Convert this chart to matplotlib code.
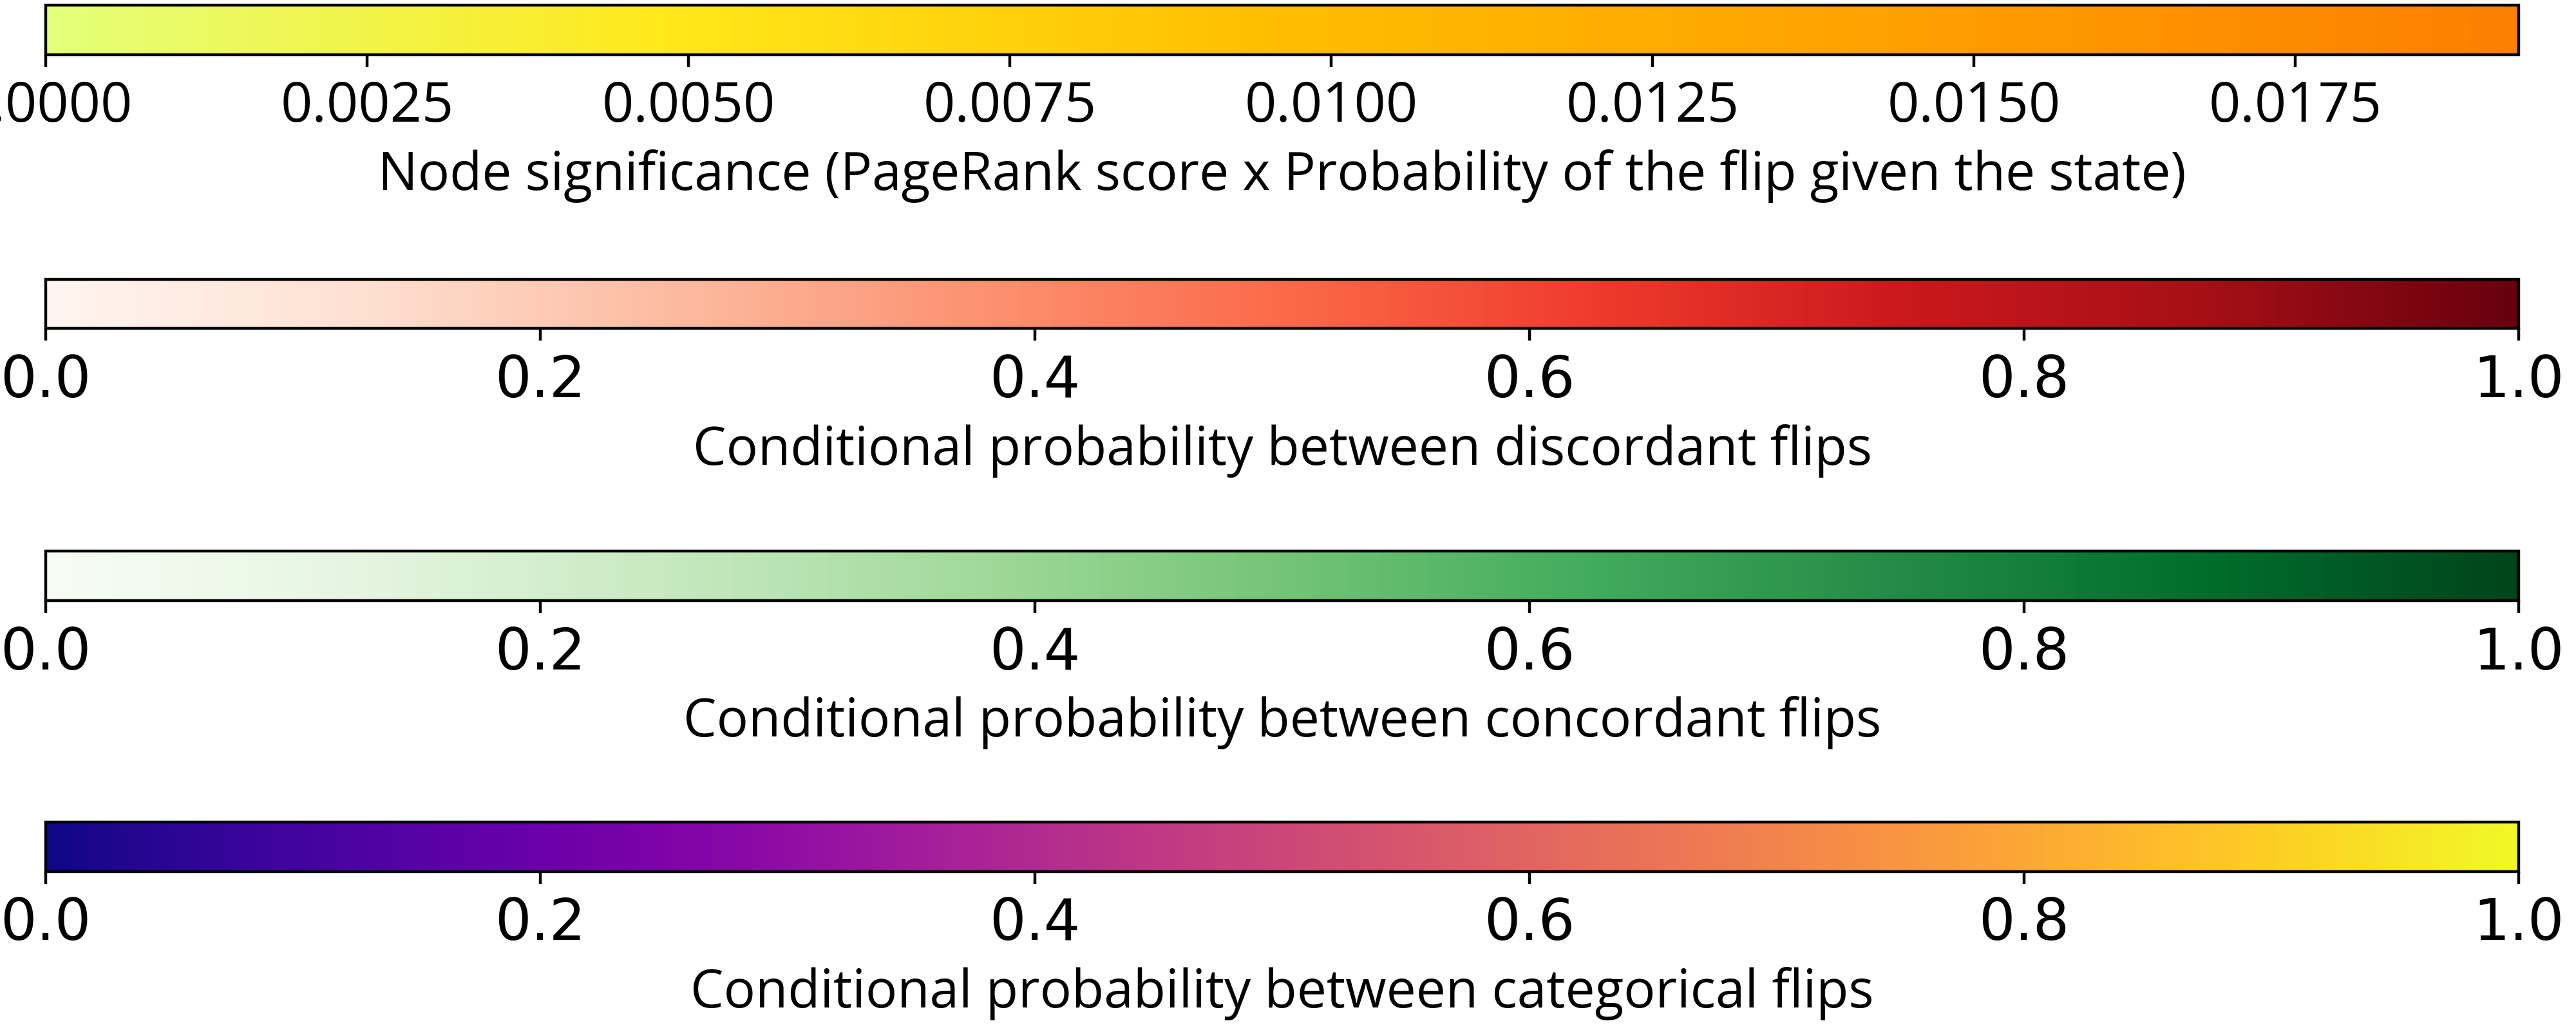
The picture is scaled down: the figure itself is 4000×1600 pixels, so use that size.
import numpy as np
import matplotlib
matplotlib.use('Agg')
import matplotlib.pyplot as plt
import matplotlib as mpl

plt.rcParams.update({
    'font.size': 16,
    'font.family': 'DejaVu Sans',
})

# colorbar ranges, maps and labels (top to bottom)
cmaps = ['Wistia', 'Reds', 'Greens', 'plasma']
vmins = [0.0, 0.0, 0.0, 0.0]
vmaxs = [0.01924, 1.0, 1.0, 1.0]
labels = [
    'Node significance (PageRank score x Probability of the flip given the state)',
    'Conditional probability between discordant flips',
    'Conditional probability between concordant flips',
    'Conditional probability between categorical flips',
]
tick_sets = [
    [0.0, 0.0025, 0.005, 0.0075, 0.01, 0.0125, 0.015, 0.0175],
    [0.0, 0.2, 0.4, 0.6, 0.8, 1.0],
    [0.0, 0.2, 0.4, 0.6, 0.8, 1.0],
    [0.0, 0.2, 0.4, 0.6, 0.8, 1.0],
]
tick_fmts = ['{:.4f}', '{:.1f}', '{:.1f}', '{:.1f}']

label_font = ['Open Sans', 'DejaVu Sans']

fig = plt.figure(figsize=(10, 4), dpi=400)

left, width, height = 0.0178, 0.960, 0.048
tops = [0.995, 0.729, 0.465, 0.202]

for i in range(4):
    cax = fig.add_axes([left, tops[i] - height, width, height])
    norm = mpl.colors.Normalize(vmin=vmins[i], vmax=vmaxs[i])
    sm = mpl.cm.ScalarMappable(norm=norm, cmap=cmaps[i])
    cb = fig.colorbar(sm, cax=cax, orientation='horizontal')
    cb.set_ticks(tick_sets[i])
    cb.set_ticklabels([tick_fmts[i].format(t) for t in tick_sets[i]])
    if i == 0:
        for t in cb.ax.get_xticklabels():
            t.set_family(label_font)
            t.set_fontsize(15.5)
    cb.set_label(labels[i], family=label_font, fontsize=14.75)

plt.savefig('out.png', dpi=400)
